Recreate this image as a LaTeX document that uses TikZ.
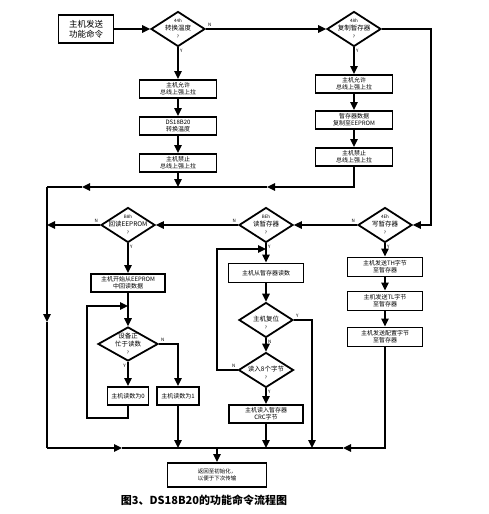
\documentclass[tikz,border=0pt]{standalone}
\usepackage{fontspec}
\newfontfamily\cjk{Noto Sans CJK SC}
\usetikzlibrary{arrows.meta,shapes.geometric}
\newcommand{\hexcode}[1]{{\fontsize{4.5}{5}\selectfont #1}}
\tikzset{
  box/.style={draw,line width=1.9pt,minimum width=77pt,minimum height=18pt,
    inner sep=0pt,align=center,font=\cjk\fontsize{6}{7}\selectfont},
  test/.style={draw,diamond,line width=1.8pt,minimum width=54pt,minimum height=35pt,
    inner sep=-7pt,align=center,font=\cjk\fontsize{6.5}{8}\selectfont},
  yn/.style={font=\cjk\fontsize{4.5}{5}\selectfont,inner sep=1.5pt},
}

\begin{document}
\begin{tikzpicture}[x=1pt,y=-1pt,line width=1.4pt,>={Triangle[length=8pt,width=7.5pt]}]
  \useasboundingbox (0,0) rectangle (489,514);
  % first command and the two top tests
  \node[box,minimum width=55pt,minimum height=28pt,font=\cjk\fontsize{8.5}{10}\selectfont] (send) at (86,29) {主机发送\\功能命令};
  \node[test] (convert) at (178,29) {\hexcode{44h}\\转换温度\\\hexcode{?}};
  \node[test] (copy) at (354,29) {\hexcode{48h}\\复制暂存器\\\hexcode{?}};
  \draw[->] (send) -- (convert);
  \draw[->] (convert) -- node[yn,pos=0,above right] (convN) {N} (copy);
  % convert column
  \node[box] (cvOn) at (178,89) {主机允许\\总线上强上拉};
  \node[box] (cvRun) at (178,126) {DS18B20\\转换温度};
  \node[box] (cvOff) at (178,163) {主机禁止\\总线上强上拉};
  \draw[->] (convert) -- node[yn,pos=0,below right] (convY) {Y} (cvOn);
  \draw[->] (cvOn) -- (cvRun);
  \draw[->] (cvRun) -- (cvOff);
  % copy column
  \node[box] (cpOn) at (354,84) {主机允许\\总线上强上拉};
  \node[box] (cpRun) at (354,120) {暂存器数据\\复制至EEPROM};
  \node[box] (cpOff) at (354,157) {主机禁止\\总线上强上拉};
  \draw[->] (copy) -- node[yn,pos=0,below right] (copyY) {Y} (cpOn);
  \draw[->] (cpOn) -- (cpRun);
  \draw[->] (cpRun) -- (cpOff);
  % rails and joints
  \coordinate (railTop) at (47,187);
  \coordinate (railMid) at (47,225);
  \coordinate (railBot) at (47,448);
  \coordinate (cvJoin) at (178,187);
  \coordinate (midA) at (267,187);
  \coordinate (midB) at (82,187);
  \coordinate (midC) at (47,322);
  \coordinate (midD) at (122,448);
  \coordinate (midE) at (343,448);
  \coordinate (rtCorner) at (431,29);
  \coordinate (endJoin) at (217,448);
  \draw[->] (cvOff) -- (cvJoin);
  \draw[->] (cpOff) |- (midA);
  \draw (midA) -- (cvJoin);
  \draw[->] (cvJoin) -- (midB);
  \draw (midB) -- (railTop);
  \draw[->] (railTop) -- (midC);
  \draw (midC) -- (railBot);
  \draw[->] (railBot) -- (midD);
  \draw (midE) -- (midD);
  % second row of tests
  \node[test] (eeTest) at (128,225) {\hexcode{B8h}\\回读EEPROM\\\hexcode{?}};
  \node[test] (rdTest) at (266,225) {\hexcode{BEh}\\读暂存器\\\hexcode{?}};
  \node[test] (wrTest) at (385,225) {\hexcode{4Eh}\\写暂存器\\\hexcode{?}};
  \draw[->] (copy) -- (rtCorner) |- (wrTest);
  \draw[->] (wrTest) -- node[yn,pos=0,above left] (wrN) {N} (rdTest);
  \draw[->] (rdTest) -- node[yn,pos=0,above left] (rdN) {N} (eeTest);
  \draw[->] (eeTest) -- node[yn,pos=0,above left] (eeN) {N} (railMid);
  % recall EEPROM column
  \node[box,minimum width=74pt] (eeStart) at (128,283) {主机开始从EEPROM\\中回读数据};
  \node[test,minimum width=60pt,minimum height=34pt] (busy) at (128,344) {设备正\\忙于读数\\\hexcode{?}};
  \node[box,minimum width=41pt] (bit0) at (128,396) {主机读数为0};
  \node[box,minimum width=42pt] (bit1) at (178,396) {主机读数为1};
  \coordinate (loopA) at (128,418);
  \coordinate (loopB) at (87,418);
  \coordinate (loopC) at (87,306);
  \coordinate (loopD) at (128,306);
  \draw[->] (eeTest) -- node[yn,pos=0,below right] (eeY) {Y} (eeStart);
  \draw[->] (eeStart) -- (busy);
  \draw[->] (busy) -- node[yn,pos=0,below left] (busyY) {Y} (bit0);
  \draw[->] (busy) -| node[yn,pos=0,above right] (busyN) {N} (bit1);
  \draw[->] (bit0) -- (loopA) -- (loopB) -- (loopC) -- (loopD);
  \draw[->] (bit1) -- (bit1 |- railBot);
  % read scratchpad column
  \node[box,minimum width=75pt,minimum height=19pt] (rdData) at (266,273) {主机从暂存器读数};
  \node[test] (reset) at (266,320) {\hexcode{\phantom{?}}\\主机复位\\\hexcode{?}};
  \node[test,minimum width=55pt] (eight) at (266,370) {\hexcode{\phantom{?}}\\读入8个字节\\\hexcode{?}};
  \node[box,minimum width=74pt] (crc) at (266,414) {主机读入暂存器\\CRC字节};
  \coordinate (backA) at (217,370);
  \coordinate (backB) at (217,249);
  \coordinate (backC) at (266,249);
  \coordinate (resetDrop) at (312,448);
  \draw[->] (rdTest) -- node[yn,pos=0,below right] (rdY) {Y} (rdData);
  \draw[->] (rdData) -- (reset);
  \draw[->] (reset) -- node[yn,pos=0,below right] (resetN) {N} (eight);
  \draw[->] (reset) -| node[yn,pos=0,above right] (resetY) {Y} (resetDrop);
  \draw[->] (eight) -- node[yn,pos=0,above left] (eightN) {N} (backA) -- (backB) -- (backC);
  \draw[->] (eight) -- node[yn,pos=0,below right] (eightY) {Y} (crc);
  \draw[->] (crc) -- (crc |- railBot);
  % write scratchpad column
  \node[box,minimum width=75pt,minimum height=19pt] (wrTH) at (385,267) {主机发送TH字节\\至暂存器};
  \node[box,minimum width=75pt,minimum height=19pt] (wrTL) at (385,301) {主机发送TL字节\\至暂存器};
  \node[box,minimum width=75pt,minimum height=19pt] (wrCfg) at (385,337) {主机发送配置字节\\至暂存器};
  \draw[->] (wrTest) -- node[yn,pos=0,below right] (wrY) {Y} (wrTH);
  \draw[->] (wrTH) -- (wrTL);
  \draw[->] (wrTL) -- (wrCfg);
  \draw[->] (wrCfg) |- (midE);
  % back to initialisation
  \node[box,minimum width=99pt,minimum height=24pt,font=\cjk\fontsize{5.5}{6.5}\selectfont] (restart) at (217,475) {返回至初始化，\\以便于下次传输};
  \draw[->] (endJoin) -- (restart);
  \node[font=\cjk\bfseries\fontsize{11}{12}\selectfont] (caption) at (204,500) {图3、DS18B20的功能命令流程图};
\end{tikzpicture}
\end{document}
